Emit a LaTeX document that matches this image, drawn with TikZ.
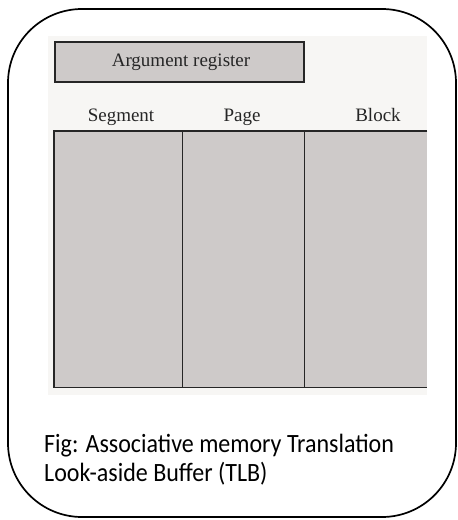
\documentclass[tikz,border=0pt]{standalone}
\usepackage{fontspec}
\setmainfont{Liberation Serif}
\newfontfamily\capfont{Carlito}
\begin{document}
\begin{tikzpicture}[x=1pt,y=-1pt,
  cell/.style={fill=cellgray, draw=none, inner sep=0pt, anchor=north west},
  rule/.style={line width=1.8pt, draw=black!85},
  head/.style={font=\fontsize{19}{21}\selectfont, text=black!85, anchor=base, inner sep=0pt},
  caption/.style={font=\capfont\fontsize{24}{28}\selectfont, anchor=base west, inner sep=0pt, yscale=1.1, transform shape}]
\definecolor{cellgray}{RGB}{206,202,201}
\definecolor{scanbg}{RGB}{247,246,244}
\useasboundingbox (0,0) rectangle (458,520);
% outer frame
\draw[line width=1.7pt, rounded corners=74pt] (8,9) rectangle (456,517);
% scanned page background
\fill[scanbg] (48,36) rectangle (427,395);
% argument register
\node[cell, draw=black!85, line width=1.8pt, minimum width=249pt, minimum height=40pt] (arg) at (54,41) {};
\node[head] (argtext) at (181,66) {Argument register};
% column headings
\node[head] (hseg) at (121,121) {Segment};
\node[head] (hpage) at (242,121) {Page};
\node[head] (hblock) at (378,121) {Block};
% table columns
\node[cell, minimum width=128pt, minimum height=256pt] (seg) at (54,131) {};
\node[cell, minimum width=122pt, minimum height=256pt] (page) at (182,131) {};
\node[cell, minimum width=123pt, minimum height=256pt] (block) at (304,131) {};
% table rules
\draw[rule] (block.north east) -- (seg.north west) -- (seg.south west) -- (block.south east);
\draw[rule] (seg.north east) -- (seg.south east);
\draw[rule] (page.north east) -- (page.south east);
% caption
\node[caption] (cap1) at (44,452) {Fig: Associative memory Translation};
\node[caption] (cap2) at (44,481) {Look-aside Buffer (TLB)};
\end{tikzpicture}
\end{document}
